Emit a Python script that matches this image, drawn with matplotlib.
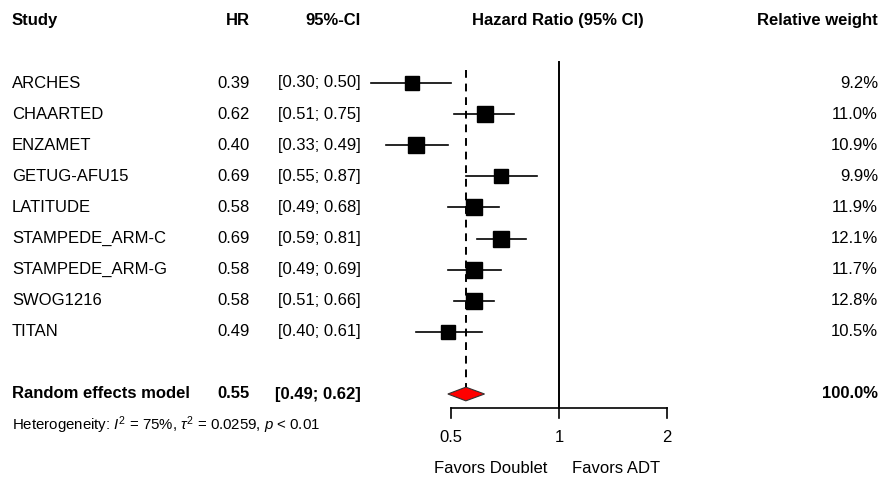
import numpy as np
import matplotlib
matplotlib.use("AGG")
import matplotlib.pyplot as plt
from matplotlib import transforms
from matplotlib.patches import Polygon

studies = ["ARCHES", "CHAARTED", "ENZAMET", "GETUG-AFU15", "LATITUDE",
           "STAMPEDE_ARM-C", "STAMPEDE_ARM-G", "SWOG1216", "TITAN"]
hr = [0.39, 0.62, 0.40, 0.69, 0.58, 0.69, 0.58, 0.58, 0.49]
lower = [0.30, 0.51, 0.33, 0.55, 0.49, 0.59, 0.49, 0.51, 0.40]
upper = [0.50, 0.75, 0.49, 0.87, 0.68, 0.81, 0.69, 0.66, 0.61]
weight = [9.2, 11.0, 10.9, 9.9, 11.9, 12.1, 11.7, 12.8, 10.5]

pooled_label = "Random effects model"
pooled_hr, pooled_lo, pooled_hi = 0.55, 0.49, 0.62
ticks = [0.5, 1, 2]
tick_labels = ["0.5", "1", "2"]

plt.rcParams["font.family"] = ["Liberation Sans", "DejaVu Sans"]
plt.rcParams["mathtext.fontset"] = "custom"
plt.rcParams["mathtext.rm"] = "Liberation Sans"
plt.rcParams["mathtext.it"] = "Liberation Sans:italic"

W, H = 880, 480
fig = plt.figure(figsize=(W / 100, H / 100), dpi=100)

# forest panel: pixels 360..680 horizontally, full height
x0_px, x1_px = 360, 680
ax = fig.add_axes([x0_px / W, 0, (x1_px - x0_px) / W, 1])
ax.set_xscale("log", base=2)
px_per_unit = 108.0
ax.set_xlim(0.5 * 2 ** (-(451 - x0_px) / px_per_unit),
            2 * 2 ** ((x1_px - 667) / px_per_unit))
row_px, first_px = 31.1, 83
ax.set_ylim((H - first_px) / row_px, -first_px / row_px)
ax.axis("off")

fs = 12
rows = np.arange(len(studies))
re_row = len(studies) + 1
axis_row = 10.45

# reference lines
ax.plot([1, 1], [-0.68, axis_row], color="black", lw=1.4)
ax.plot([pooled_hr, pooled_hr], [-0.42, re_row - 0.22], color="black",
        lw=1.4, ls=(0, (4, 3)))

# studies
for i, r in enumerate(rows):
    ax.plot([lower[i], upper[i]], [r, r], color="black", lw=1.2)
    ax.plot(hr[i], r, marker="s", color="black",
            ms=4.6 * np.sqrt(weight[i]) * 0.72, mec="black")

# pooled diamond
ax.add_patch(Polygon([[pooled_lo, re_row], [pooled_hr, re_row - 0.22],
                      [pooled_hi, re_row], [pooled_hr, re_row + 0.22]],
                     closed=True, fc="red", ec="#333333", lw=0.8))

# x axis
ax.plot([ticks[0], ticks[-1]], [axis_row, axis_row], color="black", lw=1.2)
for t, lab in zip(ticks, tick_labels):
    ax.plot([t, t], [axis_row, axis_row + 0.32], color="black", lw=1.2)
    ax.text(t, 11.4, lab, ha="center", va="center", fontsize=fs)
ax.text(0.926, 12.38, "Favors Doublet", ha="right", va="center", fontsize=fs)
ax.text(1.087, 12.38, "Favors ADT", ha="left", va="center", fontsize=fs)

# text columns
tr = transforms.blended_transform_factory(fig.transFigure, ax.transData)
hdr = -2
fx = lambda px: px / W
ax.text(fx(12), hdr, "Study", transform=tr, ha="left", va="center",
        fontsize=fs, fontweight="bold")
ax.text(fx(250), hdr, "HR", transform=tr, ha="right", va="center",
        fontsize=fs, fontweight="bold")
ax.text(fx(361), hdr, "95%-CI", transform=tr, ha="right", va="center",
        fontsize=fs, fontweight="bold")
ax.text(fx(558), hdr, "Hazard Ratio (95% CI)", transform=tr, ha="center",
        va="center", fontsize=fs, fontweight="bold")
ax.text(fx(878), hdr, "Relative weight", transform=tr, ha="right",
        va="center", fontsize=fs, fontweight="bold")

for i, r in enumerate(rows):
    ax.text(fx(12), r, studies[i], transform=tr, ha="left", va="center", fontsize=fs)
    ax.text(fx(250), r, f"{hr[i]:.2f}", transform=tr, ha="right", va="center", fontsize=fs)
    ax.text(fx(361), r, f"[{lower[i]:.2f}; {upper[i]:.2f}]", transform=tr,
            ha="right", va="center", fontsize=fs)
    ax.text(fx(878), r, f"{weight[i]:.1f}%", transform=tr, ha="right",
            va="center", fontsize=fs)

ax.text(fx(12), re_row, pooled_label, transform=tr, ha="left", va="center",
        fontsize=fs, fontweight="bold")
ax.text(fx(250), re_row, f"{pooled_hr:.2f}", transform=tr, ha="right",
        va="center", fontsize=fs, fontweight="bold")
ax.text(fx(361), re_row, f"[{pooled_lo:.2f}; {pooled_hi:.2f}]", transform=tr,
        ha="right", va="center", fontsize=fs, fontweight="bold")
ax.text(fx(878), re_row, f"{sum(weight):.1f}%", transform=tr, ha="right",
        va="center", fontsize=fs, fontweight="bold")

ax.text(fx(12), 11.0,
        r"Heterogeneity: $I^2$ = 75%, $\tau^2$ = 0.0259, $p$ < 0.01",
        transform=tr, ha="left", va="center", fontsize=10.8)

fig.savefig("out.png", dpi=100)
